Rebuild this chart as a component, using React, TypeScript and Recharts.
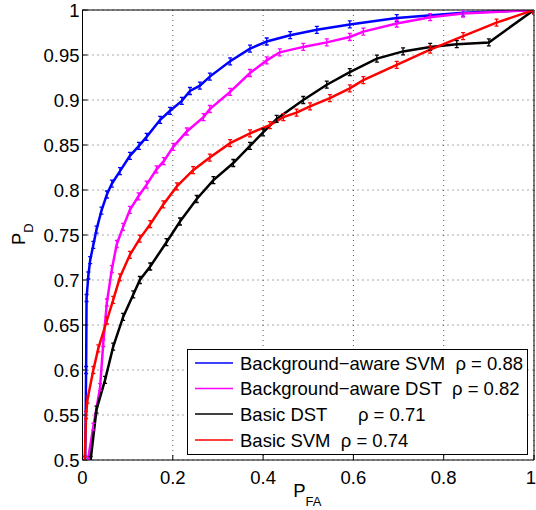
import React from 'react';
import { LineChart, Line, XAxis, YAxis, CartesianGrid, Legend } from 'recharts';

const FONT = '"Liberation Sans", Arial, Helvetica, sans-serif';

// Background-aware SVM
const bgSvmFA = [0.006, 0.008, 0.009, 0.013, 0.017, 0.024, 0.031, 0.042, 0.054, 0.065, 0.083, 0.105, 0.125, 0.142, 0.172, 0.194, 0.22, 0.238, 0.26, 0.282, 0.327, 0.371, 0.408, 0.46, 0.519, 0.592, 0.696, 0.843, 1];
const bgSvmPD = [0.5, 0.6, 0.68, 0.705, 0.722, 0.739, 0.756, 0.777, 0.795, 0.807, 0.821, 0.838, 0.849, 0.859, 0.878, 0.888, 0.899, 0.91, 0.916, 0.926, 0.943, 0.957, 0.965, 0.972, 0.978, 0.984, 0.991, 0.997, 1];

// Background-aware DST
const bgDstFA = [0.012, 0.024, 0.039, 0.046, 0.054, 0.065, 0.076, 0.09, 0.105, 0.124, 0.142, 0.164, 0.18, 0.201, 0.231, 0.268, 0.282, 0.327, 0.371, 0.408, 0.437, 0.489, 0.541, 0.592, 0.622, 0.696, 0.77, 0.843, 1];
const bgDstPD = [0.5, 0.537, 0.581, 0.63, 0.675, 0.712, 0.74, 0.759, 0.778, 0.793, 0.806, 0.823, 0.832, 0.848, 0.865, 0.881, 0.89, 0.909, 0.93, 0.944, 0.953, 0.959, 0.964, 0.97, 0.976, 0.985, 0.992, 0.996, 1];

// Basic DST
const dstFA = [0.018, 0.031, 0.05, 0.068, 0.09, 0.1125, 0.127, 0.15, 0.186, 0.216, 0.253, 0.29, 0.334, 0.371, 0.4, 0.43, 0.489, 0.541, 0.592, 0.652, 0.71, 0.77, 0.829, 0.9, 1];
const dstPD = [0.5, 0.556, 0.589, 0.626, 0.659, 0.684, 0.7, 0.715, 0.742, 0.765, 0.79, 0.811, 0.83, 0.849, 0.864, 0.879, 0.9, 0.917, 0.931, 0.946, 0.954, 0.959, 0.962, 0.964, 1];

// Basic SVM
const svmFA = [0.005, 0.008, 0.011, 0.024, 0.035, 0.054, 0.068, 0.083, 0.105, 0.127, 0.15, 0.179, 0.209, 0.245, 0.282, 0.327, 0.371, 0.415, 0.445, 0.474, 0.504, 0.548, 0.592, 0.622, 0.696, 0.77, 0.843, 0.917, 1];
const svmPD = [0.5, 0.55, 0.567, 0.6, 0.624, 0.655, 0.678, 0.703, 0.728, 0.746, 0.762, 0.784, 0.804, 0.822, 0.836, 0.852, 0.863, 0.872, 0.881, 0.886, 0.893, 0.902, 0.913, 0.922, 0.939, 0.956, 0.971, 0.986, 1];

const seriesNames = [
  'Background\u2212aware SVM  \u03c1 = 0.88',
  'Background\u2212aware DST  \u03c1 = 0.82',
  'Basic DST      \u03c1 = 0.71',
  'Basic SVM  \u03c1 = 0.74',
];
const seriesColors = ['#0000ff', '#ff00ff', '#000000', '#ff0000'];

const xTicks = [0, 0.2, 0.4, 0.6, 0.8, 1];
const xTickLabels = ['0', '0.2', '0.4', '0.6', '0.8', '1'];
const yTicks = [0.5, 0.55, 0.6, 0.65, 0.7, 0.75, 0.8, 0.85, 0.9, 0.95, 1];
const yTickLabels = ['0.5', '0.55', '0.6', '0.65', '0.7', '0.75', '0.8', '0.85', '0.9', '0.95', '1'];

const toPoints = (fa: number[], pd: number[]) => fa.map((x, i) => ({ fa: x, pd: pd[i] }));
const seriesData = [
  toPoints(bgSvmFA, bgSvmPD),
  toPoints(bgDstFA, bgDstPD),
  toPoints(dstFA, dstPD),
  toPoints(svmFA, svmPD),
];

const findLabel = (ticks: number[], labels: string[]) => (v: number) => {
  const i = ticks.findIndex((t) => Math.abs(t - v) < 1e-9);
  return i >= 0 ? labels[i] : String(v);
};

const xLabelOf = findLabel(xTicks, xTickLabels);

const XTick = (props: any) => {
  const { x, y, payload, index } = props;
  const isLast = index === xTicks.length - 1;
  return (
    <text
      x={isLast ? x + 2 : x}
      y={y}
      dy="0.71em"
      textAnchor={isLast ? 'end' : 'middle'}
      fontFamily={FONT}
      fontSize={18.5}
      fill="#000"
    >
      {xLabelOf(payload.value)}
    </text>
  );
};

const makeDot = (color: string) => (props: any) => {
  const { cx, cy, index } = props;
  if (cx == null || cy == null) return <g key={index} />;
  return (
    <path
      key={index}
      d={`M${cx - 2},${cy - 3.5}h4M${cx},${cy - 3.5}v7M${cx - 2},${cy + 3.5}h4`}
      stroke={color}
      strokeWidth={1.3}
      fill="none"
    />
  );
};

const XLabel = (props: any) => {
  const { x, y, width } = props.viewBox;
  const cx = x + width / 2;
  return (
    <text x={cx - 15} y={y + 37} fontFamily={FONT} fontSize={18.5} fill="#000">
      P<tspan dy={9} fontSize={13}>FA</tspan>
    </text>
  );
};

const YLabel = (props: any) => {
  const { x, y, height } = props.viewBox;
  const ax = x + 25;
  const ay = y + height / 2 + 10;
  return (
    <text x={ax} y={ay} transform={`rotate(-90, ${ax}, ${ay})`} fontFamily={FONT} fontSize={18.5} fill="#000">
      P<tspan dy={8} fontSize={13}>D</tspan>
    </text>
  );
};

const LegendBox = (props: any) => {
  const payload = [...(props.payload || [])].sort(
    (a: any, b: any) => seriesNames.indexOf(a.value) - seriesNames.indexOf(b.value)
  );
  const rows = [14, 39.5, 65, 91];
  return (
    <svg width={341} height={106} style={{ display: 'block' }}>
      <rect x={0.5} y={0.5} width={340} height={105} fill="#fff" stroke="#000" strokeWidth={1} />
      {payload.map((p: any, i: number) => (
        <g key={i}>
          <line x1={8} x2={46} y1={rows[i]} y2={rows[i]} stroke={p.color} strokeWidth={1.5} />
          <text
            x={53}
            y={rows[i]}
            dominantBaseline="central"
            fontFamily={FONT}
            fontSize={18.5}
            fill="#000"
            style={{ whiteSpace: 'pre' }}
          >
            {p.value}
          </text>
        </g>
      ))}
    </svg>
  );
};

export default function App() {
  return (
    <div style={{ position: 'absolute', left: 0, top: 0 }}>
      <LineChart width={536} height={510} margin={{ top: 9, right: 1, left: 0, bottom: 0 }}>
        <CartesianGrid stroke="#555" strokeDasharray="1 4" strokeWidth={1} />
        <XAxis
          dataKey="fa"
          type="number"
          domain={[0, 1]}
          ticks={xTicks}
          interval={0}
          height={50}
          stroke="#000"
          tickSize={-5}
          tickMargin={16}
          tick={XTick}
          label={XLabel}
          allowDataOverflow
        />
        <XAxis
          xAxisId="top"
          orientation="top"
          type="number"
          domain={[0, 1]}
          ticks={xTicks}
          interval={0}
          height={1}
          tick={false}
          tickSize={-5}
          stroke="#000"
          allowDataOverflow
        />
        <YAxis
          type="number"
          domain={[0.5, 1]}
          ticks={yTicks}
          interval={0}
          tickFormatter={findLabel(yTicks, yTickLabels)}
          width={82.5}
          stroke="#000"
          tickSize={-5}
          tickMargin={8}
          tick={{ fill: '#000', fontSize: 18.5, fontFamily: FONT }}
          label={YLabel}
          allowDataOverflow
        />
        <YAxis
          yAxisId="right"
          orientation="right"
          type="number"
          domain={[0.5, 1]}
          ticks={yTicks}
          interval={0}
          width={1}
          tick={false}
          tickSize={-5}
          stroke="#000"
          allowDataOverflow
        />
        {seriesData.map((d, i) => (
          <Line
            key={i}
            data={d}
            dataKey="pd"
            name={seriesNames[i]}
            stroke={seriesColors[i]}
            strokeWidth={2.5}
            dot={makeDot(seriesColors[i])}
            activeDot={false}
            isAnimationActive={false}
            type="linear"
          />
        ))}
        <Legend
          layout="vertical"
          verticalAlign="middle"
          align="center"
          width={341}
          height={106}
          wrapperStyle={{ left: 187, top: 349, width: 341, height: 106 }}
          content={LegendBox}
        />
      </LineChart>
    </div>
  );
}
